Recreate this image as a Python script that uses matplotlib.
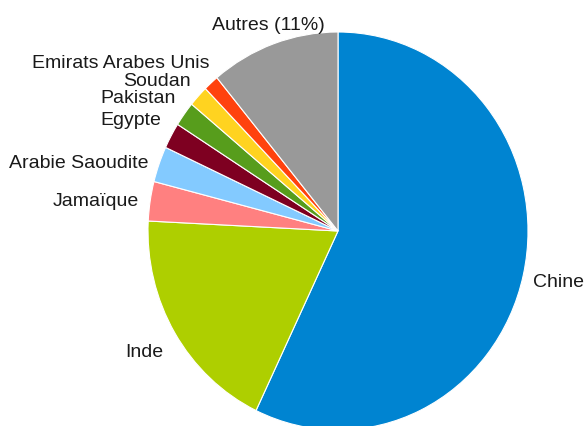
import matplotlib
matplotlib.use("Agg")
import matplotlib.pyplot as plt

categories = ["Chine", "Inde", "Jamaïque", "Arabie Saoudite", "Egypte",
              "Pakistan", "Soudan", "Emirats Arabes Unis", "Autres (11%)"]
values = [57.1, 18.7, 3.2, 2.9, 2.1, 2.0, 1.7, 1.3, 11.0]
colors = ["#0084d1", "#aecf00", "#ff8080", "#83caff", "#7e0021",
          "#579d1c", "#ffd320", "#ff420e", "#999999"]

# label layout (pixel positions: x, baseline y, alignment)
label_pos = {
    "Chine": (533, 287, "left"),
    "Inde": (163, 357, "right"),
    "Jamaïque": (139, 206, "right"),
    "Arabie Saoudite": (149, 168, "right"),
    "Egypte": (161, 125, "right"),
    "Pakistan": (176, 103, "right"),
    "Soudan": (191, 86, "right"),
    "Emirats Arabes Unis": (210, 68, "right"),
    "Autres (11%)": (325, 30, "right"),
}

W, H = 587, 427
fig = plt.figure(figsize=(W / 100, H / 100), dpi=100)
ax = fig.add_axes([148 / W, (H - 431) / H, 380 / W, 398 / H])
ax.pie(values, colors=colors, startangle=90, counterclock=False,
       wedgeprops=dict(edgecolor="white", linewidth=0.8))
ax.set_aspect("auto")
ax.set_xlim(-1, 1)
ax.set_ylim(-1, 1)
ax.axis("off")

for cat in categories:
    x, y, ha = label_pos[cat]
    fig.text(x / W, 1 - y / H, cat, ha=ha, va="baseline",
             fontsize=14, family=["Liberation Sans", "DejaVu Sans"],
             color="#1a1a1a")

fig.savefig("out.png", dpi=100)
